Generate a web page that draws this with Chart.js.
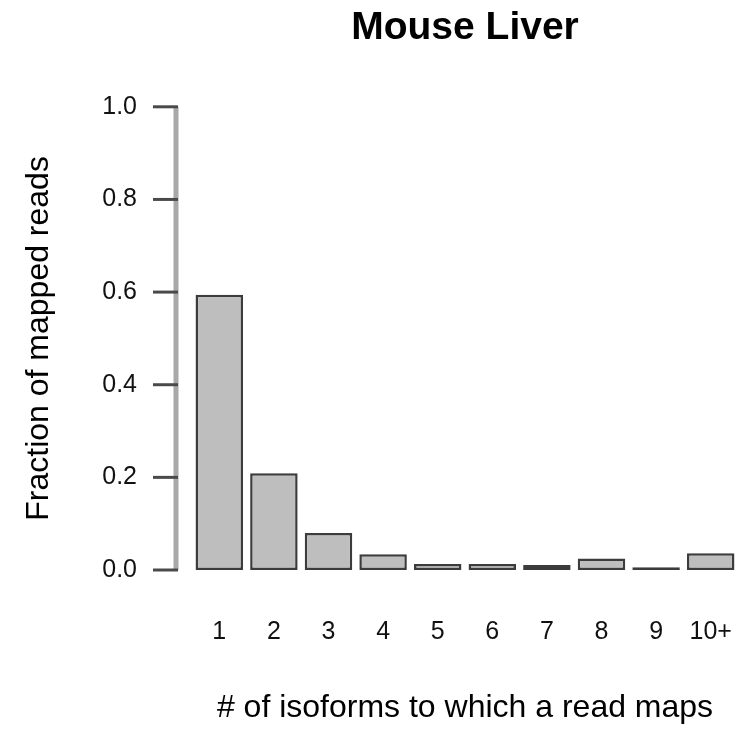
<!DOCTYPE html>
<html>
<head>
<meta charset="utf-8">
<title>Mouse Liver</title>
<script src="https://cdn.jsdelivr.net/npm/chart.js@4/dist/chart.umd.min.js"></script>
<style>
  html, body { margin: 0; padding: 0; background: #ffffff; }
  #wrap { width: 738px; height: 729px; position: relative; }
</style>
</head>
<body>
<div id="wrap"><canvas id="chart"></canvas></div>
<script>
// Number of isoforms a read maps to, and the share of mapped reads for each
const categories = ['1', '2', '3', '4', '5', '6', '7', '8', '9', '10+'];
const fractions = [0.594, 0.209, 0.080, 0.034, 0.013, 0.013, 0.011, 0.025, 0.006, 0.036];
const yTicks = [0, 0.2, 0.4, 0.6, 0.8, 1.0];

const FONT = "'Liberation Sans', Arial, Helvetica, sans-serif";

// Draws the detached R-style y axis: a grey spine left of the bars with short tick marks
const detachedYAxis = {
  id: 'detachedYAxis',
  afterDraw(chart) {
    const { ctx, chartArea, scales } = chart;
    const y = scales.y;
    const spineX = chartArea.left - 16;
    const tickLen = 23;
    ctx.save();
    ctx.strokeStyle = '#a8a8a8';
    ctx.lineWidth = 5;
    ctx.beginPath();
    ctx.moveTo(spineX, y.getPixelForValue(yTicks[0]));
    ctx.lineTo(spineX, y.getPixelForValue(yTicks[yTicks.length - 1]));
    ctx.stroke();
    ctx.strokeStyle = '#4a4a4a';
    ctx.lineWidth = 3;
    for (const v of yTicks) {
      const py = y.getPixelForValue(v);
      ctx.beginPath();
      ctx.moveTo(spineX - tickLen, py);
      ctx.lineTo(spineX + 2, py);
      ctx.stroke();
    }
    ctx.restore();
  }
};

new Chart(document.getElementById('chart'), {
  type: 'bar',
  data: {
    labels: categories,
    datasets: [{
      data: fractions,
      backgroundColor: '#bebebe',
      borderColor: '#3c3c3c',
      borderWidth: 2.5,
      borderSkipped: false,
      categoryPercentage: 1.0,
      barPercentage: 0.87
    }]
  },
  options: {
    responsive: true,
    maintainAspectRatio: false,
    animation: false,
    devicePixelRatio: 1,
    layout: { padding: 0 },
    plugins: {
      legend: { display: false },
      tooltip: { enabled: false },
      title: {
        display: true,
        text: 'Mouse Liver',
        fullSize: false,
        color: '#000000',
        font: { family: FONT, size: 39, weight: 'bold', lineHeight: 1.2 },
        padding: { top: 5, bottom: 55 }
      }
    },
    scales: {
      x: {
        type: 'category',
        offset: true,
        // invisible tick marks keep the labels well below the bars
        grid: { display: false, drawTicks: true, tickLength: 45 },
        border: { display: false },
        ticks: {
          color: '#111111',
          font: { family: FONT, size: 25, lineHeight: 1.2 },
          padding: 2,
          maxRotation: 0,
          autoSkip: false
        },
        title: {
          display: true,
          text: '# of isoforms to which a read maps',
          color: '#000000',
          font: { family: FONT, size: 32, lineHeight: 1.2 },
          padding: { top: 0, bottom: 2 }
        },
        afterFit(scale) {
          scale.height = 159;
          scale.paddingLeft = 0;
          scale.paddingRight = 0;
        }
      },
      y: {
        min: 0,
        max: 1,
        grid: { display: false, drawTicks: false },
        border: { display: false },
        afterBuildTicks(scale) { scale.ticks = yTicks.map(v => ({ value: v })); },
        ticks: {
          color: '#111111',
          font: { family: FONT, size: 25, lineHeight: 1.2 },
          padding: 55,
          callback: v => Number(v).toFixed(1)
        },
        title: {
          display: true,
          text: 'Fraction of mapped reads',
          color: '#000000',
          font: { family: FONT, size: 32, lineHeight: 1.2 },
          padding: { top: 20, bottom: 0 }
        },
        afterFit(scale) { scale.width = 192; }
      }
    }
  },
  plugins: [detachedYAxis]
});
</script>
</body>
</html>
